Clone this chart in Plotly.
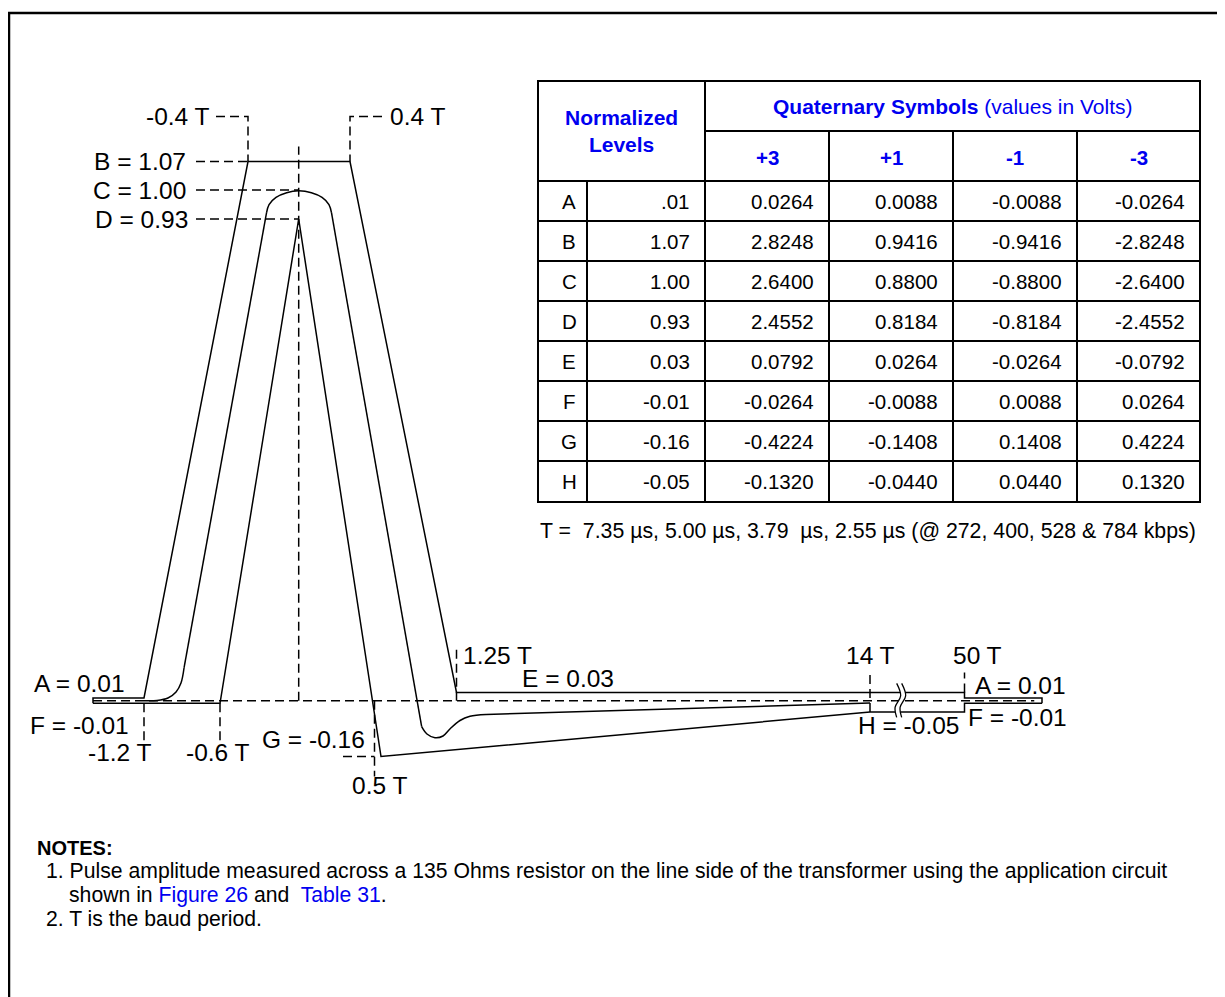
import numpy as np
import plotly.graph_objects as go

# schematic scales: the drawing is not to scale, so T and level are warped piecewise
T_KNOTS = [-1.6, -1.2, -0.6, -0.4, 0.0, 0.4, 0.5, 0.55, 1.25, 14, 50, 52]
X_KNOTS = [93, 144, 220, 248, 298.7, 350, 374.5, 381, 456.5, 870, 964.5, 1042]
L_KNOTS = [-0.16, -0.05, -0.01, 0.0, 0.01, 0.03, 0.93, 1.00, 1.07]
Y_KNOTS = [756.5, 712, 703.3, 700.7, 698, 692.5, 219, 190, 161.5]

# pulse mask (T, normalized level)
UPPER_T = [-1.6, -1.6, -1.2, -0.4, 0.4, 1.25, 50, 50, 52, 52]
UPPER_L = [-0.01, 0.01, 0.01, 1.07, 1.07, 0.03, 0.03, 0.01, 0.01, -0.01]
LOWER_T = [-1.6, -0.6, 0.0, 0.55, 14, 50, 50, 52]
LOWER_L = [-0.01, -0.01, 0.93, -0.16, -0.05, -0.05, -0.01, -0.01]

# typical pulse
FOOT_T = [-1.2, -1.097, -1.011, -0.947, -0.908, -0.884]
FOOT_L = [0.0, 0.001, 0.01, 0.031, 0.048, 0.0766]
RISE_T = [-0.884, -0.254]
RISE_L = [0.0766, 0.9445]
ARC_T = [-0.254, -0.234, -0.179, -0.095, 0.0, 0.099, 0.182, 0.236, 0.256]
ARC_L = [0.9445, 0.9648, 0.9822, 0.9935, 0.998, 0.9935, 0.9822, 0.9648, 0.9445]
FALL_T = [0.256, 0.927]
FALL_L = [0.9445, -0.0863]
DIP_T = [0.927, 0.976, 1.050, 1.125, 1.189, 1.358, 1.667, 2.16]
DIP_L = [-0.0863, -0.1044, -0.1135, -0.1093, -0.092, -0.071, -0.0606, -0.0562]
TAIL_T = [2.16, 14]
TAIL_L = [-0.0562, -0.009]
BREAK_T = 25

# table
LEVEL_NAMES = ["A", "B", "C", "D", "E", "F", "G", "H"]
NORMALIZED = [".01", "1.07", "1.00", "0.93", "0.03", "-0.01", "-0.16", "-0.05"]
SYMBOLS = ["+3", "+1", "-1", "-3"]
V_P3 = ["0.0264", "2.8248", "2.6400", "2.4552", "0.0792", "-0.0264", "-0.4224", "-0.1320"]
V_P1 = ["0.0088", "0.9416", "0.8800", "0.8184", "0.0264", "-0.0088", "-0.1408", "-0.0440"]
V_M1 = ["-0.0088", "-0.9416", "-0.8800", "-0.8184", "-0.0264", "0.0088", "0.1408", "0.0440"]
V_M3 = ["-0.0264", "-2.8248", "-2.6400", "-2.4552", "-0.0792", "0.0264", "0.4224", "0.1320"]

FONT = "Liberation Sans, Arial, sans-serif"
BLUE = "#0000f0"
PAGE_OFFSET = 8  # default body margin of the html page


def tx(t):
    return np.interp(t, T_KNOTS, X_KNOTS)


def ly(l):
    return np.interp(l, L_KNOTS, Y_KNOTS)


fig = go.Figure()


def line(xs, ys, dash=None, shape="linear", width=1.5):
    fig.add_trace(go.Scatter(
        x=list(xs), y=list(ys), mode="lines", hoverinfo="skip",
        line=dict(color="black", width=width, dash=dash, shape=shape, smoothing=1.0),
    ))


DASH = "9px,5px"
DW = 1.5

# reference (dashed) lines
line(tx([-1.6, 51.8]), ly([0, 0]), dash=DASH, width=DW)
line(tx([0, 0]), [ly(0), ly(1.07) - 15], dash=DASH, width=DW)
line([216, tx(-0.4), tx(-0.4)], [ly(1.07) - 45, ly(1.07) - 45, ly(1.07)], dash=DASH, width=DW)
line([382, tx(0.4), tx(0.4)], [ly(1.07) - 45, ly(1.07) - 45, ly(1.07)], dash=DASH, width=DW)
line([196, tx(-0.4)], ly([1.07, 1.07]), dash=DASH, width=DW)
line([196, tx(0)], ly([1.0, 1.0]), dash=DASH, width=DW)
line([196, tx(0)], ly([0.93, 0.93]), dash=DASH, width=DW)
line(tx([-1.2, -1.2]), [ly(-0.01), ly(-0.01) + 37], dash=DASH, width=DW)
line(tx([-0.6, -0.6]), [ly(-0.01), ly(-0.01) + 37], dash=DASH, width=DW)
line(tx([0.5, 0.5]), [ly(0), ly(-0.16) + 20], dash=DASH, width=DW)
line([343, tx(0.5)], ly([-0.16, -0.16]), dash=DASH, width=DW)
line(tx([1.25, 1.25]), [ly(0), ly(0.03) - 45], dash=DASH, width=DW)
line(tx([14, 14]), [ly(-0.05), ly(0.03) - 20], dash=DASH, width=DW)
line(tx([50, 50]), [ly(0.03), ly(0.03) - 20], dash=DASH, width=DW)

# mask
line(tx(UPPER_T), ly(UPPER_L))
line(tx(LOWER_T), ly(LOWER_L))

# typical pulse
line(tx(FOOT_T), ly(FOOT_L), shape="spline")
line(tx(RISE_T), ly(RISE_L))
line(tx(ARC_T), ly(ARC_L), shape="spline")
line(tx(FALL_T), ly(FALL_L))
line(tx(DIP_T), ly(DIP_L), shape="spline")
line(tx(TAIL_T), ly(TAIL_L))

# axis break
bx, by = float(tx(BREAK_T)), float(ly(0))
s_dx = [-2.2, 1.8, -3.8, -2.2]
s_dy = [-17.3, -5, 6.7, 16.7]
left_x = [bx + d for d in s_dx]
right_x = [bx + 5 + d for d in s_dx]
ys = [by + d for d in s_dy]
fig.add_trace(go.Scatter(
    x=left_x + right_x[::-1], y=ys + ys[::-1], mode="lines", fill="toself",
    fillcolor="white", line=dict(width=0, shape="spline"), hoverinfo="skip",
))
line(left_x, ys, shape="spline", width=1.3)
line(right_x, ys, shape="spline", width=1.3)

shapes = []
# frame
shapes.append(dict(type="path", path="M 9,1000 L 9,13 L 1230,13",
                   line=dict(color="black", width=2.5)))

# table grid
COL_X = [538, 587, 705, 829, 953, 1077, 1200]
ROW_Y = [81, 131, 181, 221, 261, 301, 341, 381, 421, 461, 502]
tl = dict(color="black", width=2)
shapes.append(dict(type="rect", x0=COL_X[0], x1=COL_X[-1], y0=ROW_Y[0], y1=ROW_Y[-1], line=tl))
shapes.append(dict(type="line", x0=COL_X[2], x1=COL_X[2], y0=ROW_Y[0], y1=ROW_Y[-1], line=tl))
shapes.append(dict(type="line", x0=COL_X[2], x1=COL_X[-1], y0=ROW_Y[1], y1=ROW_Y[1], line=tl))
shapes.append(dict(type="line", x0=COL_X[1], x1=COL_X[1], y0=ROW_Y[2], y1=ROW_Y[-1], line=tl))
for cx in COL_X[3:-1]:
    shapes.append(dict(type="line", x0=cx, x1=cx, y0=ROW_Y[1], y1=ROW_Y[-1], line=tl))
for ry in ROW_Y[2:-1]:
    shapes.append(dict(type="line", x0=COL_X[0], x1=COL_X[-1], y0=ry, y1=ry, line=tl))

ann = []


def text(x, y, s, size=24.5, xa="center", ya="middle", color="black"):
    ann.append(dict(x=x, y=y, text=s, showarrow=False, xanchor=xa, yanchor=ya,
                    font=dict(family=FONT, size=size, color=color)))


# diagram labels
text(212, ly(1.07) - 45, "-0.4 T", xa="right")
text(388, ly(1.07) - 45, "0.4 T", xa="left")
text(188, ly(1.07), "B = 1.07", xa="right")
text(188, ly(1.0), "C = 1.00", xa="right")
text(190, ly(0.93), "D = 0.93", xa="right")
text(32, ly(0.01) - 15, "A = 0.01", xa="left")
text(28, ly(-0.01) + 22, "F = -0.01", xa="left")
text(tx(-1.2) - 24, 752, "-1.2 T")
text(tx(-0.6) - 2, 752, "-0.6 T")
text(313, 739, "G = -0.16")
text(379, 785, "0.5 T")
text(461, 655, "1.25 T", xa="left")
text(568, 678, "E = 0.03")
text(870, 655, "14 T")
text(977, 655, "50 T")
text(1020, 685, "A = 0.01")
text(1017, 717, "F = -0.01")
text(908, 725, "H = -0.05")

# table text
text((COL_X[0] + COL_X[2]) / 2, ROW_Y[1], "<b>Normalized<br>Levels</b>", size=21, color=BLUE)
text((COL_X[2] + COL_X[-1]) / 2, (ROW_Y[0] + ROW_Y[1]) / 2,
     "<b>Quaternary Symbols</b> (values in Volts)", size=21, color=BLUE)
for i, s in enumerate(SYMBOLS):
    text((COL_X[i + 2] + COL_X[i + 3]) / 2, (ROW_Y[1] + ROW_Y[2]) / 2 + 1,
         "<b>" + s + "</b>", size=20.5, color=BLUE)
for r, name in enumerate(LEVEL_NAMES):
    yc = (ROW_Y[r + 2] + ROW_Y[r + 3]) / 2
    text(569, yc, name, size=20.5)
    for c, col in enumerate([NORMALIZED, V_P3, V_P1, V_M1, V_M3]):
        text(COL_X[c + 2] - 13, yc, col[r], size=20.5, xa="right")

text(538, 531, "T =  7.35 \u00b5s, 5.00 \u00b5s, 3.79  \u00b5s, 2.55 \u00b5s (@ 272, 400, 528 &amp; 784 kbps)",
     size=21.3, xa="left")

# notes
text(35, 848, "<b>NOTES:</b>", size=20, xa="left")
text(44, 871, "1. Pulse amplitude measured across a 135 Ohms resistor on the line side of the "
              "transformer using the application circuit", size=21.2, xa="left")
text(67, 895, "shown in <span style='color:%s'>Figure 26</span> and  "
              "<span style='color:%s'>Table 31</span>." % (BLUE, BLUE), size=21.2, xa="left")
text(44, 919, "2. T is the baud period.", size=21.2, xa="left")

fig.update_layout(
    width=1225 - PAGE_OFFSET, height=997 - PAGE_OFFSET, autosize=False,
    margin=dict(l=0, r=0, t=0, b=0),
    paper_bgcolor="white", plot_bgcolor="white",
    showlegend=False,
    xaxis=dict(range=[PAGE_OFFSET, 1225], visible=False, fixedrange=True),
    yaxis=dict(range=[997, PAGE_OFFSET], visible=False, fixedrange=True),
    shapes=shapes, annotations=ann,
)

fig.write_html("out.html")
